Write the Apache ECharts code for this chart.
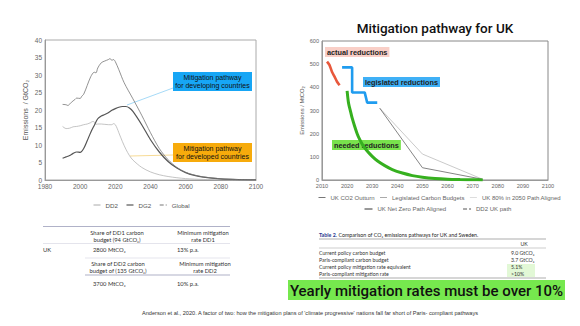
<!DOCTYPE html>
<html><head><meta charset="utf-8">
<script src="https://cdn.jsdelivr.net/npm/echarts@6/dist/echarts.min.js"></script>
<style>html,body{margin:0;padding:0;background:#fff}#c{width:580px;height:326px}</style>
</head><body><div id="c"></div>
<script>
// ---------- Left chart data (GtCO2) ----------
const globalYears = [1990,1992,1993,1995,1997,1998,2000,2001,2002,2004,2006,2008,2009,2010,2012,2014,2016,2017,2018,2019,2020,2022,2025,2030,2035,2040,2045,2050,2055,2060,2065,2070,2080,2090,2100];
const globalVals  = [21.6,21.5,21.3,22.2,23.0,23.4,23.3,24.0,24.5,27.0,29.5,30.8,30.6,32.0,33.5,34.0,34.4,34.7,34.2,34.4,33.8,31.5,27.8,23.2,18.5,13.5,9.0,5.8,3.6,2.2,1.4,0.9,0.35,0.12,0.05];
const dg2Years = [1990,1992,1994,1996,1998,2000,2002,2004,2006,2008,2010,2012,2014,2016,2018,2020,2022,2024,2026,2028,2030,2035,2040,2045,2050,2055,2060,2065,2070,2080,2090,2100];
const dg2Vals  = [6.2,6.6,7.0,7.6,8.0,7.9,9.0,11.2,13.6,15.6,17.5,18.3,18.7,19.2,19.9,20.4,20.8,21.0,21.0,20.6,19.6,15.8,11.5,8.0,5.3,3.4,2.1,1.3,0.8,0.3,0.1,0.04];
const dd2Years = [1990,1992,1994,1996,1998,2000,2002,2004,2006,2007,2008,2009,2010,2012,2014,2016,2018,2019,2020,2021,2022,2024,2026,2028,2030,2035,2040,2045,2050,2055,2060,2070,2080,2100];
const dd2Vals  = [15.3,14.7,14.8,15.2,15.3,15.5,15.8,16.0,16.4,16.7,16.6,15.9,16.0,16.0,15.9,15.8,15.8,16.1,15.8,14.8,13.5,11.0,8.8,7.0,5.7,3.6,2.3,1.5,1.0,0.65,0.4,0.15,0.05,0];

// ---------- Right chart data (MtCO2) ----------
const outturnYears = [2012,2013,2014,2015,2016,2017];
const outturnVals  = [511,496,466,446,424,409];
const legisYears = [2018,2022,2022,2027,2028,2032];
const legisVals  = [486,486,378,378,334,334];
const uk80Years = [2033,2050,2074];
const uk80Vals  = [310,112,3];
const netZeroYears = [2033,2050,2074];
const netZeroVals  = [310,53,3];
const dd2ukYears = [2020,2020.6,2021.5,2022,2023,2024,2025,2026,2028,2030,2032,2035,2038,2042,2046,2050,2055,2060,2065,2070,2074];
const dd2ukVals  = [385,330,290,268,232,200,175,155,125,102,83,62,45,30,19,12,6.5,3.5,2,1,0];

// ---------- Axis ticks ----------
const leftXTicks = {min:1980,max:2100,interval:20};
const leftYTicks = {min:0,max:40,interval:5};
const rightXTicks = {min:2010,max:2100,interval:10};
const rightYTicks = {min:0,max:600,interval:100};

const zip = (xs, ys) => xs.map((x,i)=>[x, ys[i]]);
const F = 'Liberation Sans, Arial, sans-serif';
const TF = 'Lato, Open Sans, sans-serif';
const plain = v => String(v);

const chart = echarts.init(document.getElementById('c'), null, {renderer:'svg'});

const axisCommon = {
  type:'value', axisTick:{show:false}, splitLine:{show:false},
  axisLine:{show:true, lineStyle:{color:'#999', width:1}},
  axisLabel:{color:'#666', fontSize:6.5, fontFamily:F, margin:3, formatter:plain}
};

function t(x,y,text,opt){
  return Object.assign({type:'text', x:x, y:y, silent:true, style:Object.assign({text:text, fontFamily:TF, fontSize:5.8, fill:'#333', align:'left', verticalAlign:'middle'}, opt||{})});
}
function ln(x1,y,x2,color,w){
  return {type:'line', silent:true, shape:{x1:x1,y1:y,x2:x2,y2:y}, style:{stroke:color||'#8e90b0', lineWidth:w||0.7}};
}
const noSym = {opacity:0};

const option = {
  animation:false,
  backgroundColor:'#fff',
  title:{text:'Mitigation pathway for UK', left:430, top:16, textAlign:'center',
    textStyle:{fontFamily:'Roboto, sans-serif', fontWeight:500, fontSize:13.5, color:'#111'}},
  grid:[
    {left:45, top:40, width:211, height:140, show:true, borderColor:'#aaa', borderWidth:1, backgroundColor:'transparent'},
    {left:322, top:41, width:226, height:139, show:true, borderColor:'#888', borderWidth:1, backgroundColor:'transparent'}
  ],
  xAxis:[
    Object.assign({}, axisCommon, {gridIndex:0}, leftXTicks),
    Object.assign({}, axisCommon, {gridIndex:1, axisLabel:Object.assign({}, axisCommon.axisLabel, {fontSize:5.6})}, rightXTicks)
  ],
  yAxis:[
    Object.assign({}, axisCommon, {gridIndex:0, name:'Emissions  / GtCO₂', nameLocation:'middle', nameGap:16,
      nameTextStyle:{color:'#555', fontSize:7, fontFamily:F}}, leftYTicks),
    Object.assign({}, axisCommon, {gridIndex:1, name:'Emissions / MtCO₂', nameLocation:'middle', nameGap:17,
      nameTextStyle:{color:'#555', fontSize:5.8, fontFamily:F},
      axisLabel:Object.assign({}, axisCommon.axisLabel, {fontSize:5.6})}, rightYTicks)
  ],
  legend:[
    {left:93, top:202, padding:0, itemWidth:7, itemHeight:6, itemGap:8, itemStyle:noSym,
     textStyle:{fontSize:6.2, color:'#555', fontFamily:F},
     data:[{name:'DD2', lineStyle:{color:'#aaa', width:1}},
           {name:'DG2', lineStyle:{color:'#555', width:1.2}},
           {name:'Global', lineStyle:{color:'#777', width:1, type:'dashed'}}]},
    {left:318, top:194.5, padding:0, itemWidth:7, itemHeight:6, itemGap:5, itemStyle:noSym,
     textStyle:{fontSize:6, color:'#666', fontFamily:F},
     data:[{name:'UK CO2 Outturn', lineStyle:{color:'#777', width:1, type:'solid'}},
           {name:'Legislated Carbon Budgets', lineStyle:{color:'#aaa', width:1, type:'solid'}},
           {name:'UK 80% in 2050 Path Aligned', lineStyle:{color:'#ddd', width:1, type:'solid'}}]},
    {left:364, top:206, padding:0, itemWidth:8, itemHeight:6, itemGap:16, itemStyle:noSym,
     textStyle:{fontSize:6, color:'#666', fontFamily:F},
     data:[{name:'UK Net Zero Path Aligned', lineStyle:{color:'#333', width:1, type:'solid'}},
           {name:'DD2 UK path', lineStyle:{color:'#555', width:1, type:'dashed'}}]}
  ],
  series:[
    {name:'DD2', type:'line', xAxisIndex:0, yAxisIndex:0, data:zip(dd2Years, dd2Vals), symbol:'none', smooth:0.3,
      lineStyle:{color:'#b5b5b5', width:0.8}, itemStyle:{color:'#aaa'}},
    {name:'DG2', type:'line', xAxisIndex:0, yAxisIndex:0, data:zip(dg2Years, dg2Vals), symbol:'none', smooth:0.3,
      lineStyle:{color:'#555', width:1.2}, itemStyle:{color:'#555'}},
    {name:'Global', type:'line', xAxisIndex:0, yAxisIndex:0, data:zip(globalYears, globalVals), symbol:'none', smooth:0.3,
      lineStyle:{color:'#777', width:0.8}, itemStyle:{color:'#777'}},

    {name:'UK 80% in 2050 Path Aligned', type:'line', xAxisIndex:1, yAxisIndex:1, data:zip(uk80Years, uk80Vals), symbol:'none',
      lineStyle:{color:'#c4c4c4', width:0.9}, itemStyle:{color:'#ddd'}},
    {name:'UK Net Zero Path Aligned', type:'line', xAxisIndex:1, yAxisIndex:1, data:zip(netZeroYears, netZeroVals), symbol:'none',
      lineStyle:{color:'#666', width:0.8}, itemStyle:{color:'#333'}},
    {name:'UK CO2 Outturn', type:'line', xAxisIndex:1, yAxisIndex:1, data:zip(outturnYears, outturnVals), symbol:'none', smooth:0.2,
      lineStyle:{color:'#e8583c', width:2.6}, itemStyle:{color:'#777'}},
    {name:'Legislated Carbon Budgets', type:'line', xAxisIndex:1, yAxisIndex:1, data:zip(legisYears, legisVals), symbol:'none',
      lineStyle:{color:'#1f9cef', width:2.6}, itemStyle:{color:'#aaa'}},
    {name:'DD2 UK path', type:'line', xAxisIndex:1, yAxisIndex:1, data:zip(dd2ukYears, dd2ukVals), symbol:'none', smooth:0.3,
      lineStyle:{color:'#36b01f', width:3}, itemStyle:{color:'#555'}}
  ],
  graphic:[
    // left annotations
    {type:'line', silent:true, shape:{x1:173,y1:88,x2:127,y2:105}, style:{stroke:'#8fd0f5', lineWidth:0.8}},
    {type:'line', silent:true, shape:{x1:173,y1:155,x2:130,y2:156}, style:{stroke:'#f5d27a', lineWidth:0.8}},
    {type:'rect', silent:true, shape:{x:173,y:72,width:79,height:19}, style:{fill:'#17a6f5'}},
    t(212.5,81.5,'Mitigation pathway\nfor developing countries',{fontFamily:F, fontSize:7, fill:'#111', align:'center', lineHeight:8.5}),
    {type:'rect', silent:true, shape:{x:173,y:143,width:79,height:19}, style:{fill:'#f7ab0c'}},
    t(212.5,152.5,'Mitigation pathway\nfor developed countries',{fontFamily:F, fontSize:7, fill:'#111', align:'center', lineHeight:8.5}),

    // right annotations
    t(325,52,'actual reductions',{fontFamily:F, fontWeight:'bold', fontSize:7.3, fill:'#222', backgroundColor:'#f9cfc7', padding:[1.5,2,1.5,2]}),
    t(363,82,'legislated reductions',{fontFamily:F, fontWeight:'bold', fontSize:7.3, fill:'#222', backgroundColor:'#3fb0f6', padding:[1.5,2,1.5,2]}),
    t(332,145,'needed reductions',{fontFamily:F, fontWeight:'bold', fontSize:7.3, fill:'#222', backgroundColor:'#78e24c', padding:[1.5,2,1.5,2]}),

    // left table
    ln(43,226.5,230),
    t(117,232,'Share of DD1 carbon',{align:'center'}),
    t(117,239,'budget (94 GtCO₂)',{align:'center'}),
    t(203,232,'Minimum mitigation',{align:'center'}),
    t(203,239,'rate DD1',{align:'center'}),
    ln(43,243.5,230,'#c8c8d8',0.5),
    t(43,249,'UK'),
    t(93,249,'2800 MtCO₂'),
    t(177,249,'13% p.a.'),
    ln(85,258,230,'#c8c8d8',0.5),
    t(118,263,'Share of DD2 carbon',{align:'center'}),
    t(118,270,'budget of (135 GtCO₂)',{align:'center'}),
    t(205,263,'Minimum mitigation',{align:'center'}),
    t(205,270,'rate DD2',{align:'center'}),
    ln(85,275,230),
    t(93,283,'3700 MtCO₂'),
    t(177,283,'10% p.a.'),

    // right table
    t(319,235,'{b|Table 2.} Comparison of CO₂ emissions pathways for UK and Sweden.',{fontSize:5.3, fill:'#222',
      rich:{b:{fontFamily:TF, fontSize:5.3, fontWeight:'bold', fill:'#2b3990'}}}),
    ln(319,239,546,'#777',0.6),
    t(524,244,'UK',{fontSize:5.2, align:'center'}),
    ln(319,248,546,'#999',0.5),
    {type:'rect', silent:true, shape:{x:507,y:264,width:28,height:13}, style:{fill:'#e2f8d6'}},
    t(319,253,'Current policy carbon budget',{fontSize:5.2}),
    t(319,260,'Paris-compliant carbon budget',{fontSize:5.2}),
    t(319,267,'Current policy mitigation rate equivalent',{fontSize:5.2}),
    t(319,274,'Paris-compliant mitigation rate',{fontSize:5.2}),
    t(511,253,'9.0 GtCO₂',{fontSize:5.2}),
    t(511,260,'3.7 GtCO₂',{fontSize:5.2}),
    t(511,267,'5.1%',{fontSize:5.2}),
    t(511,274,'>10%',{fontSize:5.2}),
    ln(319,278,546,'#777',0.6),

    // banner
    {type:'rect', silent:true, shape:{x:288,y:280,width:277,height:20}, style:{fill:'#76e84e'}},
    t(426.5,290.5,'Yearly mitigation rates must be over 10%',{fontFamily:'Roboto, sans-serif', fontWeight:500, fontSize:15, fill:'#111', align:'center'}),

    // citation
    t(310,313,"Anderson et al., 2020. A factor of two: how the mitigation plans of 'climate progressive' nations fall far short of Paris- compliant pathways",
      {fontFamily:F, fontSize:5.6, fill:'#333', align:'center'})
  ]
};
chart.setOption(option);
</script></body></html>
